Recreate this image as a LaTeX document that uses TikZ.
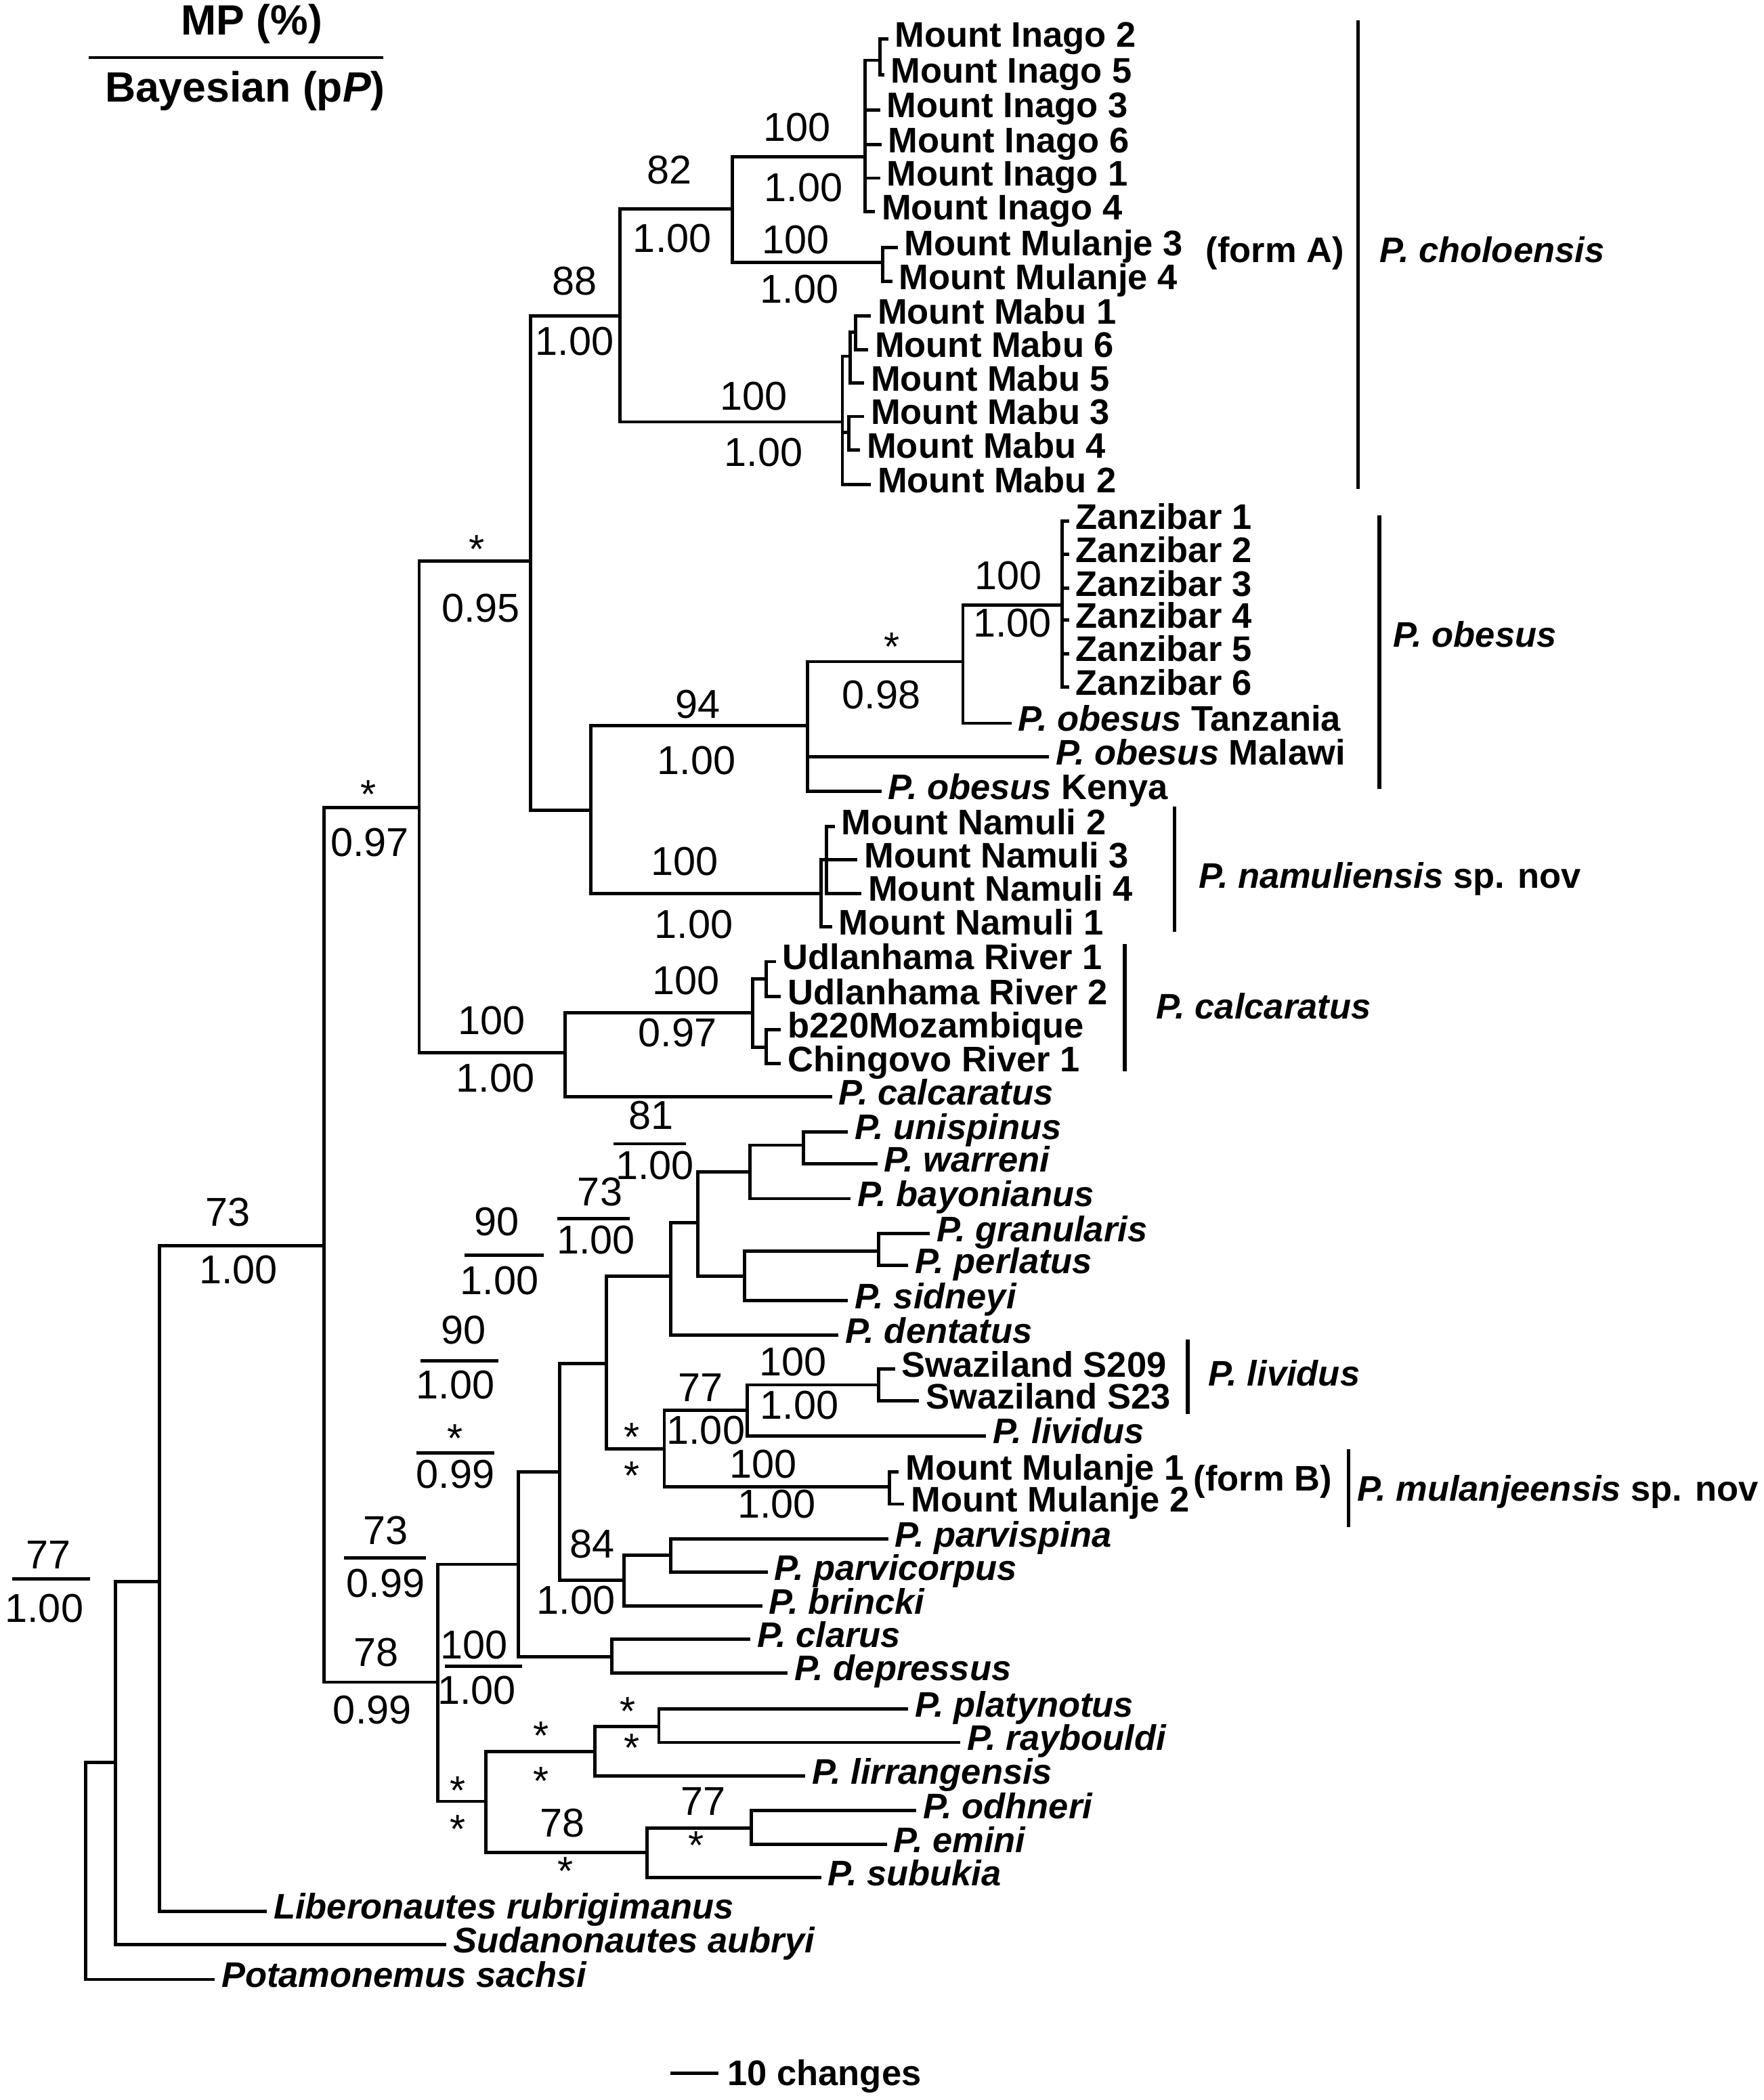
\documentclass[tikz,border=0pt]{standalone}
\usepackage{fontspec}
\setmainfont{Liberation Sans}
\usepackage{tikz}

\begin{document}
\begin{tikzpicture}[
  x=0.2mm, y=-0.2mm,
  br/.style={line width=1.4pt,line cap=rect},
  cbar/.style={line width=1.6pt},
  fbar/.style={line width=1.4pt},
  taxon/.style={anchor=west,font=\fontsize{15.1}{18}\selectfont\bfseries,inner xsep=1.2mm,inner ysep=0pt,xshift=-1.2mm,text height=10pt,text depth=3.2pt},
  clade/.style={anchor=west,font=\fontsize{15.1}{18}\selectfont\bfseries,inner sep=0pt,text height=10pt,text depth=3.2pt},
  supp/.style={font=\fontsize{17.1}{20}\selectfont,inner sep=0pt},
  head/.style={font=\fontsize{18}{21}\selectfont\bfseries,inner sep=0pt}
]
\useasboundingbox (0,0) rectangle (1317,1568);

\node[head] (mp) at (188,18) {MP (\%)};
\draw[fbar] (66,43) -- (286,43);
\node[head] (bay) at (183,68) {Bayesian (p\textit{P})};

\coordinate (root) at (64,1400);
\coordinate (nSud) at (86,1316);
\coordinate (nLib) at (119,1181);
\coordinate (nIn) at (242,930);
\coordinate (nA) at (313,603);
\coordinate (nB) at (396,419);
\coordinate (nChol) at (463,236);
\coordinate (nInMu) at (547,156);
\coordinate (nInago) at (646,117);
\coordinate (nInago25) at (657,45);
\coordinate (nMulA) at (659,196);
\coordinate (nMabu) at (629,315);
\coordinate (nMabu165) at (635,266);
\coordinate (nMabu16) at (639,248);
\coordinate (nMabu34) at (634,323);
\coordinate (nObNa) at (441,605);
\coordinate (nObesus) at (603,542);
\coordinate (nObTZ) at (719,494);
\coordinate (nZan) at (793,452);
\coordinate (nNamuli) at (613,667);
\coordinate (nNam234) at (617,642);
\coordinate (nCalc) at (422,786);
\coordinate (nMoz) at (562,756);
\coordinate (nUdl) at (572,731);
\coordinate (nChin) at (572,782);
\coordinate (nC) at (327,1256);
\coordinate (nD) at (387,1168);
\coordinate (nE) at (418,1099);
\coordinate (nF) at (453,1018);
\coordinate (nG) at (501,953);
\coordinate (nH) at (521,913);
\coordinate (nUni) at (560,875);
\coordinate (nUniWar) at (600,855);
\coordinate (nGran) at (556,953);
\coordinate (nGranPer) at (656,934);
\coordinate (nLivMul) at (496,1082);
\coordinate (nLiv) at (558,1053);
\coordinate (nSwz) at (656,1034);
\coordinate (nMulB) at (664,1110);
\coordinate (nParv) at (466,1180);
\coordinate (nParv2) at (501,1161);
\coordinate (nClar) at (457,1237);
\coordinate (nK) at (363,1345);
\coordinate (nPlat) at (444,1308);
\coordinate (nPlatRay) at (492,1289);
\coordinate (nOdh) at (483,1383);
\coordinate (nOdhEm) at (561,1365);

\node[taxon] (tIn2) at (668,29) {Mount Inago 2};
\node[taxon] (tIn5) at (665,56) {Mount Inago 5};
\node[taxon] (tIn3) at (662,82) {Mount Inago 3};
\node[taxon] (tIn6) at (663,108) {Mount Inago 6};
\node[taxon] (tIn1) at (662,133) {Mount Inago 1};
\node[taxon] (tIn4) at (658,158) {Mount Inago 4};
\node[taxon] (tMu3) at (675,185) {Mount Mulanje 3};
\node[taxon] (tMu4) at (671,210) {Mount Mulanje 4};
\node[taxon] (tMa1) at (655,236) {Mount Mabu 1};
\node[taxon] (tMa6) at (653,261) {Mount Mabu 6};
\node[taxon] (tMa5) at (650,286) {Mount Mabu 5};
\node[taxon] (tMa3) at (650,311) {Mount Mabu 3};
\node[taxon] (tMa4) at (647,336) {Mount Mabu 4};
\node[taxon] (tMa2) at (655,362) {Mount Mabu 2};
\node[taxon] (tZa1) at (803,389) {Zanzibar 1};
\node[taxon] (tZa2) at (803,414) {Zanzibar 2};
\node[taxon] (tZa3) at (803,439) {Zanzibar 3};
\node[taxon] (tZa4) at (803,463) {Zanzibar 4};
\node[taxon] (tZa5) at (803,488) {Zanzibar 5};
\node[taxon] (tZa6) at (803,513) {Zanzibar 6};
\node[taxon] (tObTz) at (760,540) {\textit{P. obesus} Tanzania};
\node[taxon] (tObMw) at (788,565) {\textit{P. obesus} Malawi};
\node[taxon] (tObKe) at (663,591) {\textit{P. obesus} Kenya};
\node[taxon] (tNa2) at (628,617) {Mount Namuli 2};
\node[taxon] (tNa3) at (645,642) {Mount Namuli 3};
\node[taxon] (tNa4) at (648,667) {Mount Namuli 4};
\node[taxon] (tNa1) at (626,692) {Mount Namuli 1};
\node[taxon] (tUd1) at (584,718) {Udlanhama River 1};
\node[taxon] (tUd2) at (588,744) {Udlanhama River 2};
\node[taxon] (tB220) at (588,769) {b220Mozambique};
\node[taxon] (tChi) at (588,794) {Chingovo River 1};
\node[taxon] (tCalc) at (626,819) {\textit{P. calcaratus}};
\node[taxon] (tUni) at (638,845) {\textit{P. unispinus}};
\node[taxon] (tWar) at (660,869) {\textit{P. warreni}};
\node[taxon] (tBay) at (640,895) {\textit{P. bayonianus}};
\node[taxon] (tGra) at (699,921) {\textit{P. granularis}};
\node[taxon] (tPer) at (683,945) {\textit{P. perlatus}};
\node[taxon] (tSid) at (638,971) {\textit{P. sidneyi}};
\node[taxon] (tDen) at (631,997) {\textit{P. dentatus}};
\node[taxon] (tS209) at (673,1022) {Swaziland S209};
\node[taxon] (tS23) at (691,1046) {Swaziland S23};
\node[taxon] (tLiv) at (741,1072) {\textit{P. lividus}};
\node[taxon] (tMb1) at (676,1099) {Mount Mulanje 1};
\node[taxon] (tMb2) at (680,1123) {Mount Mulanje 2};
\node[taxon] (tPvs) at (668,1149) {\textit{P. parvispina}};
\node[taxon] (tPvc) at (578,1174) {\textit{P. parvicorpus}};
\node[taxon] (tBri) at (574,1199) {\textit{P. brincki}};
\node[taxon] (tCla) at (565,1224) {\textit{P. clarus}};
\node[taxon] (tDep) at (593,1249) {\textit{P. depressus}};
\node[taxon] (tPla) at (683,1276) {\textit{P. platynotus}};
\node[taxon] (tRay) at (722,1301) {\textit{P. raybouldi}};
\node[taxon] (tLir) at (606,1326) {\textit{P. lirrangensis}};
\node[taxon] (tOdh) at (689,1352) {\textit{P. odhneri}};
\node[taxon] (tEmi) at (667,1377) {\textit{P. emini}};
\node[taxon] (tSub) at (618,1402) {\textit{P. subukia}};
\node[taxon] (tLib) at (204,1427) {\textit{Liberonautes rubrigimanus}};
\node[taxon] (tSud) at (338,1452) {\textit{Sudanonautes aubryi}};
\node[taxon] (tPot) at (165,1478) {\textit{Potamonemus sachsi}};

\draw[br] (root) |- (nSud) (root) |- (tPot);
\draw[br] (nSud) |- (nLib) (nSud) |- (tSud);
\draw[br] (nLib) |- (nIn) (nLib) |- (tLib);
\draw[br] (nIn) |- (nA) (nIn) |- (nC);
\draw[br] (nA) |- (nB) (nA) |- (nCalc);
\draw[br] (nB) |- (nChol) (nB) |- (nObNa);
\draw[br] (nChol) |- (nInMu) (nChol) |- (nMabu);
\draw[br] (nInMu) |- (nInago) (nInMu) |- (nMulA);
\draw[br] (nInago) |- (nInago25) (nInago) |- (tIn3) (nInago) |- (tIn6) (nInago) |- (tIn1) (nInago) |- (tIn4);
\draw[br] (nInago25) |- (tIn2) (nInago25) |- (tIn5);
\draw[br] (nMulA) |- (tMu3) (nMulA) |- (tMu4);
\draw[br] (nMabu) |- (nMabu165) (nMabu) |- (nMabu34) (nMabu) |- (tMa2);
\draw[br] (nMabu165) |- (nMabu16) (nMabu165) |- (tMa5);
\draw[br] (nMabu16) |- (tMa1) (nMabu16) |- (tMa6);
\draw[br] (nMabu34) |- (tMa3) (nMabu34) |- (tMa4);
\draw[br] (nObNa) |- (nObesus) (nObNa) |- (nNamuli);
\draw[br] (nObesus) |- (nObTZ) (nObesus) |- (tObMw) (nObesus) |- (tObKe);
\draw[br] (nObTZ) |- (nZan) (nObTZ) |- (tObTz);
\draw[br] (nZan) |- (tZa1) (nZan) |- (tZa2) (nZan) |- (tZa3) (nZan) |- (tZa4) (nZan) |- (tZa5) (nZan) |- (tZa6);
\draw[br] (nNamuli) |- (nNam234) (nNamuli) |- (tNa1);
\draw[br] (nNam234) |- (tNa2) (nNam234) |- (tNa3) (nNam234) |- (tNa4);
\draw[br] (nCalc) |- (nMoz) (nCalc) |- (tCalc);
\draw[br] (nMoz) |- (nUdl) (nMoz) |- (nChin);
\draw[br] (nUdl) |- (tUd1) (nUdl) |- (tUd2);
\draw[br] (nChin) |- (tB220) (nChin) |- (tChi);
\draw[br] (nC) |- (nD) (nC) |- (nK);
\draw[br] (nD) |- (nE) (nD) |- (nClar);
\draw[br] (nE) |- (nF) (nE) |- (nParv);
\draw[br] (nF) |- (nG) (nF) |- (nLivMul);
\draw[br] (nG) |- (nH) (nG) |- (tDen);
\draw[br] (nH) |- (nUni) (nH) |- (nGran);
\draw[br] (nUni) |- (nUniWar) (nUni) |- (tBay);
\draw[br] (nUniWar) |- (tUni) (nUniWar) |- (tWar);
\draw[br] (nGran) |- (nGranPer) (nGran) |- (tSid);
\draw[br] (nGranPer) |- (tGra) (nGranPer) |- (tPer);
\draw[br] (nLivMul) |- (nLiv) (nLivMul) |- (nMulB);
\draw[br] (nLiv) |- (nSwz) (nLiv) |- (tLiv);
\draw[br] (nSwz) |- (tS209) (nSwz) |- (tS23);
\draw[br] (nMulB) |- (tMb1) (nMulB) |- (tMb2);
\draw[br] (nParv) |- (nParv2) (nParv) |- (tBri);
\draw[br] (nParv2) |- (tPvs) (nParv2) |- (tPvc);
\draw[br] (nClar) |- (tCla) (nClar) |- (tDep);
\draw[br] (nK) |- (nPlat) (nK) |- (nOdh);
\draw[br] (nPlat) |- (nPlatRay) (nPlat) |- (tLir);
\draw[br] (nPlatRay) |- (tPla) (nPlatRay) |- (tRay);
\draw[br] (nOdh) |- (nOdhEm) (nOdh) |- (tSub);
\draw[br] (nOdhEm) |- (tOdh) (nOdhEm) |- (tEmi);

\node[supp] (mpInago) at (595,95) {100};
\node[supp] (ppInago) at (600,140) {1.00};
\node[supp] (mpMulA) at (594,179) {100};
\node[supp] (ppMulA) at (597,216) {1.00};
\node[supp] (mpInMu) at (500,127) {82};
\node[supp] (ppInMu) at (502,178) {1.00};
\node[supp] (mpChol) at (429,210) {88};
\node[supp] (ppChol) at (429,255) {1.00};
\node[supp] (mpMabu) at (563,296) {100};
\node[supp] (ppMabu) at (570,338) {1.00};
\node[supp] (mpB) at (356,410) {*};
\node[supp] (ppB) at (359,454) {0.95};
\node[supp] (mpObesus) at (521,526) {94};
\node[supp] (ppObesus) at (520,568) {1.00};
\node[supp] (mpObTZ) at (666,483) {*};
\node[supp] (ppObTZ) at (658,519) {0.98};
\node[supp] (mpZan) at (753,430) {100};
\node[supp] (ppZan) at (756,465) {1.00};
\node[supp] (mpNamuli) at (511,643) {100};
\node[supp] (ppNamuli) at (518,690) {1.00};
\node[supp] (mpMoz) at (512,732) {100};
\node[supp] (ppMoz) at (506,771) {0.97};
\node[supp] (mpCalc) at (367,762) {100};
\node[supp] (ppCalc) at (370,805) {1.00};
\node[supp] (mpA) at (275,593) {*};
\node[supp] (ppA) at (276,629) {0.97};
\node[supp] (mpIn) at (170,905) {73};
\node[supp] (ppIn) at (178,948) {1.00};
\node[supp] (mpSud) at (36,1161) {77};
\draw[fbar] (9,1179) -- (67,1179);
\node[supp] (ppSud) at (33,1201) {1.00};
\node[supp] (mpC) at (281,1234) {78};
\node[supp] (ppC) at (278,1277) {0.99};
\node[supp] (mpD) at (288,1143) {73};
\draw[fbar] (257,1163) -- (318,1163);
\node[supp] (ppD) at (288,1182) {0.99};
\node[supp] (mpE) at (340,1074) {*};
\draw[fbar] (311,1085) -- (369,1085);
\node[supp] (ppE) at (340,1101) {0.99};
\node[supp] (mpF) at (346,993) {90};
\draw[fbar] (314,1016) -- (372,1016);
\node[supp] (ppF) at (340,1034) {1.00};
\node[supp] (mpG) at (371,912) {90};
\draw[fbar] (347,937) -- (406,937);
\node[supp] (ppG) at (373,956) {1.00};
\node[supp] (mpH) at (448,890) {73};
\draw[fbar] (416,910) -- (470,910);
\node[supp] (ppH) at (445,926) {1.00};
\node[supp] (mpUni) at (486,833) {81};
\draw[fbar] (458,854) -- (512,854);
\node[supp] (ppUni) at (489,870) {1.00};
\node[supp] (mpParv) at (442,1153) {84};
\node[supp] (ppParv) at (430,1195) {1.00};
\node[supp] (mpClar) at (354,1228) {100};
\draw[fbar] (332,1244) -- (390,1244);
\node[supp] (ppClar) at (356,1262) {1.00};
\node[supp] (mpLiv) at (523,1036) {77};
\node[supp] (ppLiv) at (527,1068) {1.00};
\node[supp] (mpSwz) at (592,1017) {100};
\node[supp] (ppSwz) at (597,1049) {1.00};
\node[supp] (mpLivMul) at (472,1073) {*};
\node[supp] (ppLivMul) at (472,1102) {*};
\node[supp] (mpMulB) at (570,1093) {100};
\node[supp] (ppMulB) at (580,1123) {1.00};
\node[supp] (mpPlatRay) at (469,1278) {*};
\node[supp] (ppPlatRay) at (472,1305) {*};
\node[supp] (mpPlat) at (404,1296) {*};
\node[supp] (ppPlat) at (404,1330) {*};
\node[supp] (mpK) at (342,1337) {*};
\node[supp] (ppK) at (342,1366) {*};
\node[supp] (mpOdh) at (420,1361) {78};
\node[supp] (ppOdh) at (422,1397) {*};
\node[supp] (mpOdhEm) at (525,1345) {77};
\node[supp] (ppOdhEm) at (520,1378) {*};

\draw[cbar] (1014,15) -- (1014,365);
\node[clade] (fA) at (900,190) {(form A)};
\node[clade] (lChol) at (1030,190) {\textit{P. choloensis}};
\draw[cbar] (1030,385) -- (1030,589);
\node[clade] (lObesus) at (1040,477) {\textit{P. obesus}};
\draw[cbar] (877,602) -- (877,696);
\node[clade] (lNamuli) at (895,657) {\textit{P. namuliensis} sp. nov};
\draw[cbar] (840,705) -- (840,800);
\node[clade] (lCalc) at (863,755) {\textit{P. calcaratus}};
\draw[cbar] (887,1000) -- (887,1056);
\node[clade] (lLiv) at (902,1029) {\textit{P. lividus}};
\node[clade] (fB) at (891,1107) {(form B)};
\draw[cbar] (1007,1082) -- (1007,1140);
\node[clade] (lMul) at (1013,1115) {\textit{P. mulanjeensis} sp. nov};

\draw[br] (502,1548) -- (535,1548);
\node[clade] (scale) at (543,1551) {10 changes};
\end{tikzpicture}
\end{document}
